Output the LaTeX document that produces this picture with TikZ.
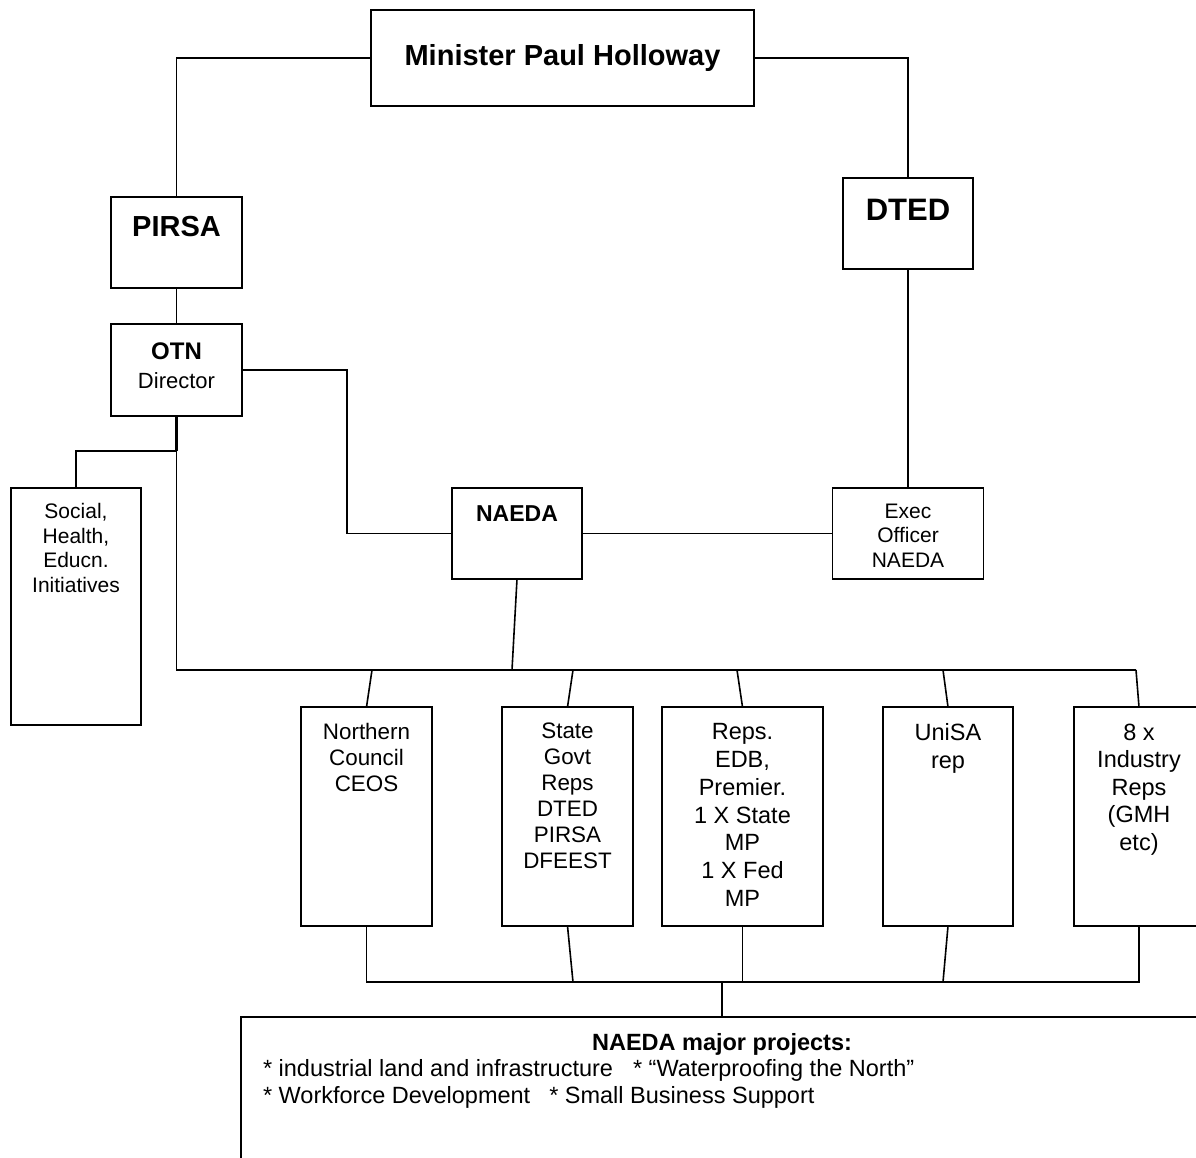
\documentclass[tikz,border=0pt]{standalone}
\usepackage{fontspec}
\setmainfont{Liberation Sans}
\newcommand{\bt}[4]{\parbox[c][#2pt][t]{#1pt}{\centering\vspace*{#3pt}#4}}
\begin{document}
\begin{tikzpicture}[x=1pt,y=-1pt,
  bx/.style={draw, line width=1.8pt, inner sep=0pt, outer sep=0pt},
  cn/.style={line width=1.6pt},
  thk/.style={line width=3.2pt}]
\useasboundingbox (0,0) rectangle (1196,1158);
\clip (0,0) rectangle (1196,1158);

% boxes
\node[bx] (min) at (562.5,58) {\bt{383}{96}{34}{\fontsize{29}{34}\selectfont\bfseries Minister Paul Holloway}};
\node[bx] (pirsa) at (176.5,242.5) {\bt{131}{91}{19}{\fontsize{29}{34}\selectfont\bfseries PIRSA}};
\node[bx] (dted) at (908,223.5) {\bt{130}{91}{20.7}{\fontsize{31}{36}\selectfont\bfseries DTED}};
\node[bx] (otn) at (176.5,370) {\bt{131}{92}{18.5}{\fontsize{22}{29}\selectfont{\fontsize{24}{29}\selectfont\bfseries OTN}\\Director}};
\node[bx] (soc) at (76,606.5) {\bt{130}{237}{15.3}{\fontsize{21}{24.7}\selectfont Social,\\Health,\\Educn.\\Initiatives}};
\node[bx] (naeda) at (517,533.5) {\bt{130}{91}{18}{\fontsize{23}{27}\selectfont\bfseries NAEDA}};
\node[bx] (exec) at (908,533.5) {\bt{151}{91}{15.6}{\fontsize{21}{24.5}\selectfont Exec\\Officer\\NAEDA}};
\node[bx] (ncc) at (366.5,816.5) {\bt{131}{219}{16}{\fontsize{22.4}{26}\selectfont Northern\\Council\\CEOS}};
\node[bx] (sgr) at (567.5,816.5) {\bt{131}{219}{16.3}{\fontsize{22.4}{26}\selectfont State\\Govt\\Reps\\DTED\\PIRSA\\DFEEST}};
\node[bx] (reps) at (742.5,816.5) {\bt{161}{219}{16.8}{\fontsize{23.5}{27.7}\selectfont Reps.\\EDB,\\Premier.\\1 X State\\MP\\1 X Fed\\MP}};
\node[bx] (uni) at (948,816.5) {\bt{130}{219}{16.8}{\fontsize{23.5}{27.5}\selectfont UniSA\\rep}};
\node[bx] (ind) at (1139,816.5) {\bt{130}{219}{16.7}{\fontsize{23.5}{27.5}\selectfont 8 x\\Industry\\Reps\\(GMH\\etc)}};
\node[bx] (proj) at (722,1117) {\parbox[c][200pt][t]{962pt}{\vspace*{16pt}%
  {\centering\fontsize{23.5}{27}\selectfont\bfseries NAEDA major projects:\par}%
  \fontsize{23.5}{26.6}\selectfont\leftskip=22pt
  * industrial land and infrastructure\hspace{20pt}* “Waterproofing the North”\par
  * Workforce Development\hspace{19pt}* Small Business Support\par}};

% junction coordinates
\coordinate (jA) at (176.5,451);
\coordinate (busL) at (176.5,670);
\coordinate (busR) at (1136,670);
\coordinate (nf) at (512,670);
\coordinate (bN) at (372,670);
\coordinate (bS) at (573,670);
\coordinate (bR) at (737,670);
\coordinate (bU) at (943,670);
\coordinate (lL) at (366.5,982);
\coordinate (lR) at (1139,982);
\coordinate (lS) at (573,982);
\coordinate (lP) at (742.5,982);
\coordinate (lU) at (943,982);
\coordinate (lC) at (722,982);

% connectors
\draw[cn] (min.west) -| (pirsa.north);
\draw[cn] (min.east) -| (dted.north);
\draw[cn] (pirsa.south) -- (otn.north);
\draw[cn] (otn.east) -- ++(105,0) |- (naeda.west);
\draw[cn] (naeda.east) -- (exec.west);
\draw[cn] (dted.south) -- (exec.north);
\draw[thk] (otn.south) -- (jA);
\draw[cn] (jA) -| (soc.north);
\draw[cn] (jA) -- (busL) -- (busR);
\draw[cn] (naeda.south) -- (nf);
\draw[cn] (bN) -- (ncc.north);
\draw[cn] (bS) -- (sgr.north);
\draw[cn] (bR) -- (reps.north);
\draw[cn] (bU) -- (uni.north);
\draw[cn] (busR) -- (ind.north);
\draw[cn] (ncc.south) -- (lL) -- (lR) -- (ind.south);
\draw[cn] (sgr.south) -- (lS);
\draw[cn] (reps.south) -- (lP);
\draw[cn] (uni.south) -- (lU);
\draw[cn] (lC) -- (proj.north);
\end{tikzpicture}
\end{document}
